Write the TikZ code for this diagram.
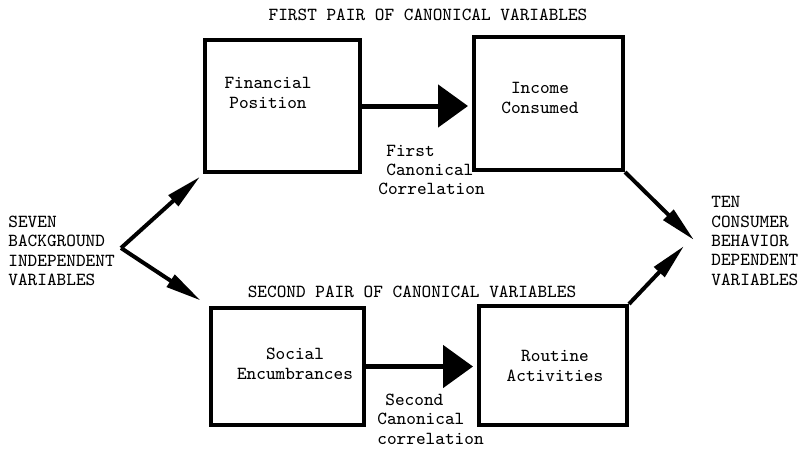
\documentclass[tikz,border=0pt]{standalone}
\usetikzlibrary{arrows.meta}
\begin{document}
\begin{tikzpicture}[x=0.5pt,y=-0.5pt,
    font=\ttfamily\fontsize{9.2}{9.7}\selectfont,
    canbox/.style={draw,line width=2pt,inner sep=0pt},
    txt/.style={align=center,inner sep=0pt},
    bigarrow/.style={line width=2.5pt,-{Triangle[length=15pt,width=21pt]},shorten >=2pt},
    thinarrow/.style={line width=2pt,-{Triangle[length=18pt,width=7pt]}}]
\useasboundingbox (0,0) rectangle (806,451);

% first pair
\node[canbox,minimum width=77.5pt,minimum height=66pt] (fp) at (282.5,106) {};
\node[canbox,minimum width=74.5pt,minimum height=66.5pt] (ic) at (548.5,103.5) {};
\node[txt] (fptxt) at (268,93) {Financial\\Position};
\node[txt] (ictxt) at (540,98) {Income\\Consumed};
\node[txt] (pair1) at (428,15) {FIRST PAIR OF CANONICAL VARIABLES};
\node[txt,align=left,anchor=west] (corr1) at (378,170) {\hspace*{4pt}First\\\hspace*{4pt}Canonical\\Correlation};
\draw[bigarrow] (fp.east) -- (fp.east -| ic.west);

% second pair
\node[canbox,minimum width=76.5pt,minimum height=58.5pt] (se) at (287.5,366.5) {};
\node[canbox,minimum width=74pt,minimum height=59.5pt] (ra) at (553,365.5) {};
\node[txt] (setxt) at (295,364) {Social\\Encumbrances};
\node[txt] (ratxt) at (555,366) {Routine\\Activities};
\node[txt] (pair2) at (412,292) {SECOND PAIR OF CANONICAL VARIABLES};
\node[txt,align=left,anchor=west] (corr2) at (377,419) {\hspace*{4pt}Second\\Canonical\\correlation};
\draw[bigarrow] (se.east) -- (se.east -| ra.west);

% independent and dependent sets
\node[txt,align=left,anchor=west] (seven) at (8,251) {SEVEN\\BACKGROUND\\INDEPENDENT\\VARIABLES};
\node[txt,align=left,anchor=west] (ten) at (711,241) {TEN\\CONSUMER\\BEHAVIOR\\DEPENDENT\\VARIABLES};
\coordinate (src) at (121,248);
\coordinate (dst1) at (694,240);
\coordinate (dst2) at (684,246);
\draw[thinarrow,shorten >=2pt] (src) -- (fp.south west);
\draw[thinarrow,shorten >=5pt] (src) -- (se.north west);
\draw[thinarrow] (ic.south east) -- (dst1);
\draw[thinarrow] (ra.north east) -- (dst2);
\end{tikzpicture}
\end{document}
